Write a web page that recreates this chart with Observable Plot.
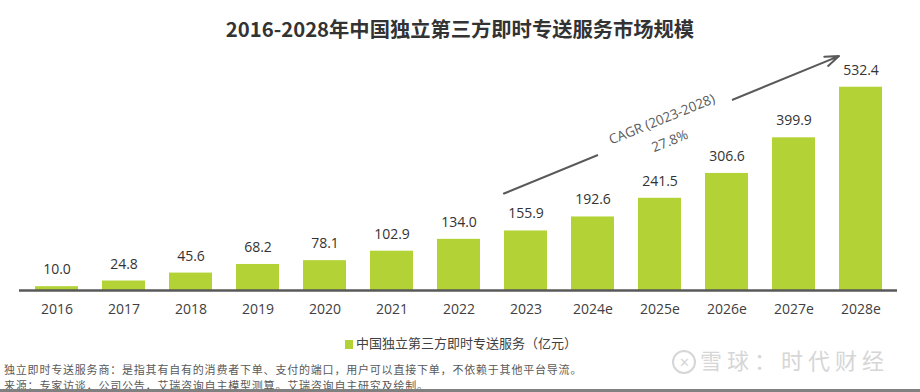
<!DOCTYPE html>
<html>
<head>
<meta charset="utf-8">
<script src="https://cdn.jsdelivr.net/npm/d3@7"></script>
<script src="https://cdn.jsdelivr.net/npm/@observablehq/plot@0.6"></script>
<style>
  body { margin: 0; background: #fff; }
  #page { position: relative; width: 920px; height: 392px; overflow: hidden; font-family: "Noto Sans CJK SC", sans-serif; background:#fff; }
  #title { position: absolute; top: 14px; left: 0; width: 920px; text-align: center; font-size: 20.3px; font-weight: bold; color: #333; line-height: 28px; }
  #chart { position: absolute; top: 50px; left: 0; }
  #legend { position: absolute; top: 335px; left: 345px; font-size: 13px; line-height: 16px; color: #404040; white-space: nowrap; }
  #legend .sw { display: inline-block; width: 8px; height: 9px; background: #b2d235; margin-right: 3px; vertical-align: -1px; }
  #notes { position: absolute; top: 360.5px; left: 4px; font-size: 11px; letter-spacing: 0.8px; color: #595959; white-space: nowrap; }
  #notes div { height: 16px; line-height: 16px; }
  #wm { position: absolute; top: 345px; left: 672px; font-size: 22px; line-height: 28px; color: #d6d6d6; letter-spacing: 5px; white-space: nowrap; }
  #wm .logo { display: inline-block; width: 20px; height: 20px; border: 2px solid #d6d6d6; border-radius: 50%; font-size: 13px; line-height: 20px; text-align: center; vertical-align: 2px; letter-spacing: 0; margin-right: 4px; }
  #bottom { position: absolute; top: 389px; left: 0; width: 920px; height: 3px; background: #808080; }
</style>
</head>
<body>
<div id="page">
  <div id="title"></div>
  <div id="chart"></div>
  <div id="legend"></div>
  <div id="notes"></div>
  <div id="wm"><span class="logo">✕</span>雪球：时代财经</div>
  <div id="bottom"></div>
</div>
<script>
// ---- data ----
const titleText = "2016-2028年中国独立第三方即时专送服务市场规模";
const seriesName = "中国独立第三方即时专送服务（亿元）";
const years = ["2016","2017","2018","2019","2020","2021","2022","2023","2024e","2025e","2026e","2027e","2028e"];
const values = [10.0, 24.8, 45.6, 68.2, 78.1, 102.9, 134.0, 155.9, 192.6, 241.5, 306.6, 399.9, 532.4];
const cagrLabel = "CAGR (2023-2028)";
const cagrValue = "27.8%";
const arrowFrom = "2023", arrowTo = "2028e";
const arrowY = [254, 614];
const gapFrom = "2024e", gapTo = "2026e";
const gapY = [355, 499];
const cagrLabelPos = {x: "2025e", y: 448};
const cagrValuePos = {x: "2025e", y: 391};
const notes = [
  "独立即时专送服务商：是指其有自有的消费者下单、支付的端口，用户可以直接下单，不依赖于其他平台导流。",
  "来源：专家访谈，公司公告，艾瑞咨询自主模型测算。艾瑞咨询自主研究及绘制。"
];

const data = years.map((y, i) => ({year: y, value: values[i]}));
const fmt = d3.format(".1f");
const green = "#b2d235";
const numFont = "'Open Sans', 'Noto Sans CJK SC', sans-serif";

document.getElementById("title").textContent = titleText;
document.getElementById("legend").innerHTML = '<span class="sw"></span>' + seriesName;
const notesEl = document.getElementById("notes");
notes.forEach(t => { const d = document.createElement("div"); d.textContent = t; notesEl.appendChild(d); });

const chart = Plot.plot({
  width: 920,
  height: 275,
  marginLeft: 19,
  marginRight: 23,
  marginTop: 30,
  marginBottom: 35,
  style: {fontFamily: numFont, color: "#404040", background: "transparent", overflow: "visible"},
  x: {domain: years, paddingInner: 0.36, paddingOuter: 0.19, label: null},
  y: {domain: [0, 550], axis: null},
  marks: [
    Plot.barY(data, {x: "year", y: "value", fill: green}),
    Plot.ruleY([0], {stroke: "#595959", strokeWidth: 2.5}),
    Plot.axisX({tickSize: 0, tickPadding: 14, fontSize: 14, fill: "#404040"}),
    Plot.text(data, {x: "year", y: "value", text: d => fmt(d.value), dy: -17, fontSize: 14, fill: "#333"}),
    Plot.arrow([{x1: arrowFrom, y1: arrowY[0], x2: arrowTo, y2: arrowY[1]}],
      {x1: "x1", y1: "y1", x2: "x2", y2: "y2", dx: -22, stroke: "#595959", strokeWidth: 2, headLength: 11, headAngle: 40}),
    Plot.link([{x1: gapFrom, y1: gapY[0], x2: gapTo, y2: gapY[1]}],
      {x1: "x1", y1: "y1", x2: "x2", y2: "y2", dx: 5, stroke: "white", strokeWidth: 7}),
    Plot.text([cagrLabelPos], {x: "x", y: "y", text: () => cagrLabel, dx: 2, rotate: -22, fontSize: 13.5, fill: "#595959"}),
    Plot.text([cagrValuePos], {x: "x", y: "y", text: () => cagrValue, dx: 10, rotate: -22, fontSize: 13.5, fill: "#595959"})
  ]
});
document.getElementById("chart").appendChild(chart);
</script>
</body>
</html>
